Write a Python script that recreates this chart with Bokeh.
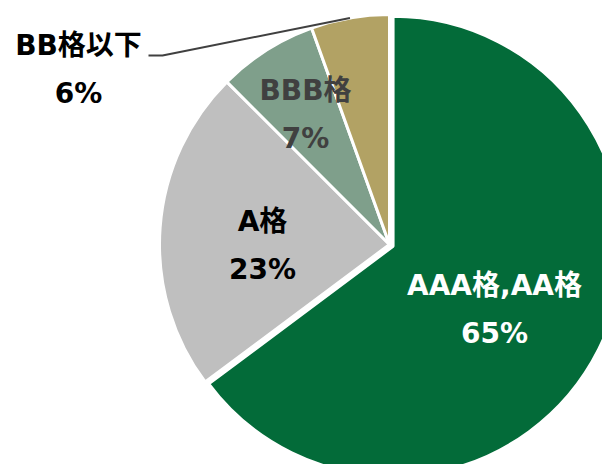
import math
from bokeh.plotting import figure
from bokeh.models import Range1d, ColumnDataSource
from bokeh.core.properties import value
from bokeh.embed import file_html
from bokeh.resources import INLINE

# ---- data ----
categories = ["AAA格,AA格", "A格", "BBB格", "BB格以下"]
values = [64.8, 22.7, 7.0, 5.5]
colors = ["#036b39", "#bfbfbf", "#7f9f8b", "#b2a264"]
label_colors = ["#ffffff", "#000000", "#404040", "#000000"]

# ---- layout (pixel space of the picture) ----
CX, CY, R = 389, 244, 230
explode = [4, 0, 0, 0]
# label centres (name line / percent line midpoint) in picture pixels
label_pos = [(494, 309), (262, 245), (305, 114), (78, 69)]
LINE_GAP = 24
FONT = value("'DejaVu Sans', 'Noto Sans CJK JP', sans-serif")

total = sum(values)
p = figure(width=602, height=464, output_backend="svg", toolbar_location=None,
           x_range=Range1d(0, 602), y_range=Range1d(-464, 0), min_border=0,
           outline_line_color=None)
p.axis.visible = False
p.grid.visible = False
p.background_fill_color = "white"
p.border_fill_color = "white"

cum = 0.0
xs, ys, starts, ends = [], [], [], []
for v, e in zip(values, explode):
    a = cum / total * 360.0
    cum += v
    b = cum / total * 360.0
    mid = math.radians((a + b) / 2)
    xs.append(CX + e * math.sin(mid))
    ys.append(-(CY - e * math.cos(mid)))
    starts.append(math.radians(90 - b))
    ends.append(math.radians(90 - a))

src = ColumnDataSource(dict(x=xs, y=ys, start=starts, end=ends, color=colors))
p.wedge(x="x", y="y", radius=R, start_angle="start", end_angle="end",
        fill_color="color", line_color="white", line_width=3, source=src)

# leader line for the small outside slice
a_bb = (sum(values[:3]) + values[3] / 2) / total * 2 * math.pi
ex, ey = CX + R * math.sin(a_bb), CY - R * math.cos(a_bb)
p.line(x=[ex, 162, 148], y=[-ey, -55, -55], line_color="#404040", line_width=2)

pct_labels = [f"{int(v + 0.5)}%" for v in values]
name_src = ColumnDataSource(dict(
    x=[q[0] for q in label_pos], y=[-(q[1] - LINE_GAP) for q in label_pos],
    text=categories, color=label_colors))
pct_src = ColumnDataSource(dict(
    x=[q[0] for q in label_pos], y=[-(q[1] + LINE_GAP) for q in label_pos],
    text=pct_labels, color=label_colors))
for s in (name_src, pct_src):
    p.text(x="x", y="y", text="text", source=s, text_color="color",
           text_align="center", text_baseline="middle", text_font=FONT,
           text_font_size="28px", text_font_style="bold")

open("out.html", "w").write(file_html(p, INLINE))
